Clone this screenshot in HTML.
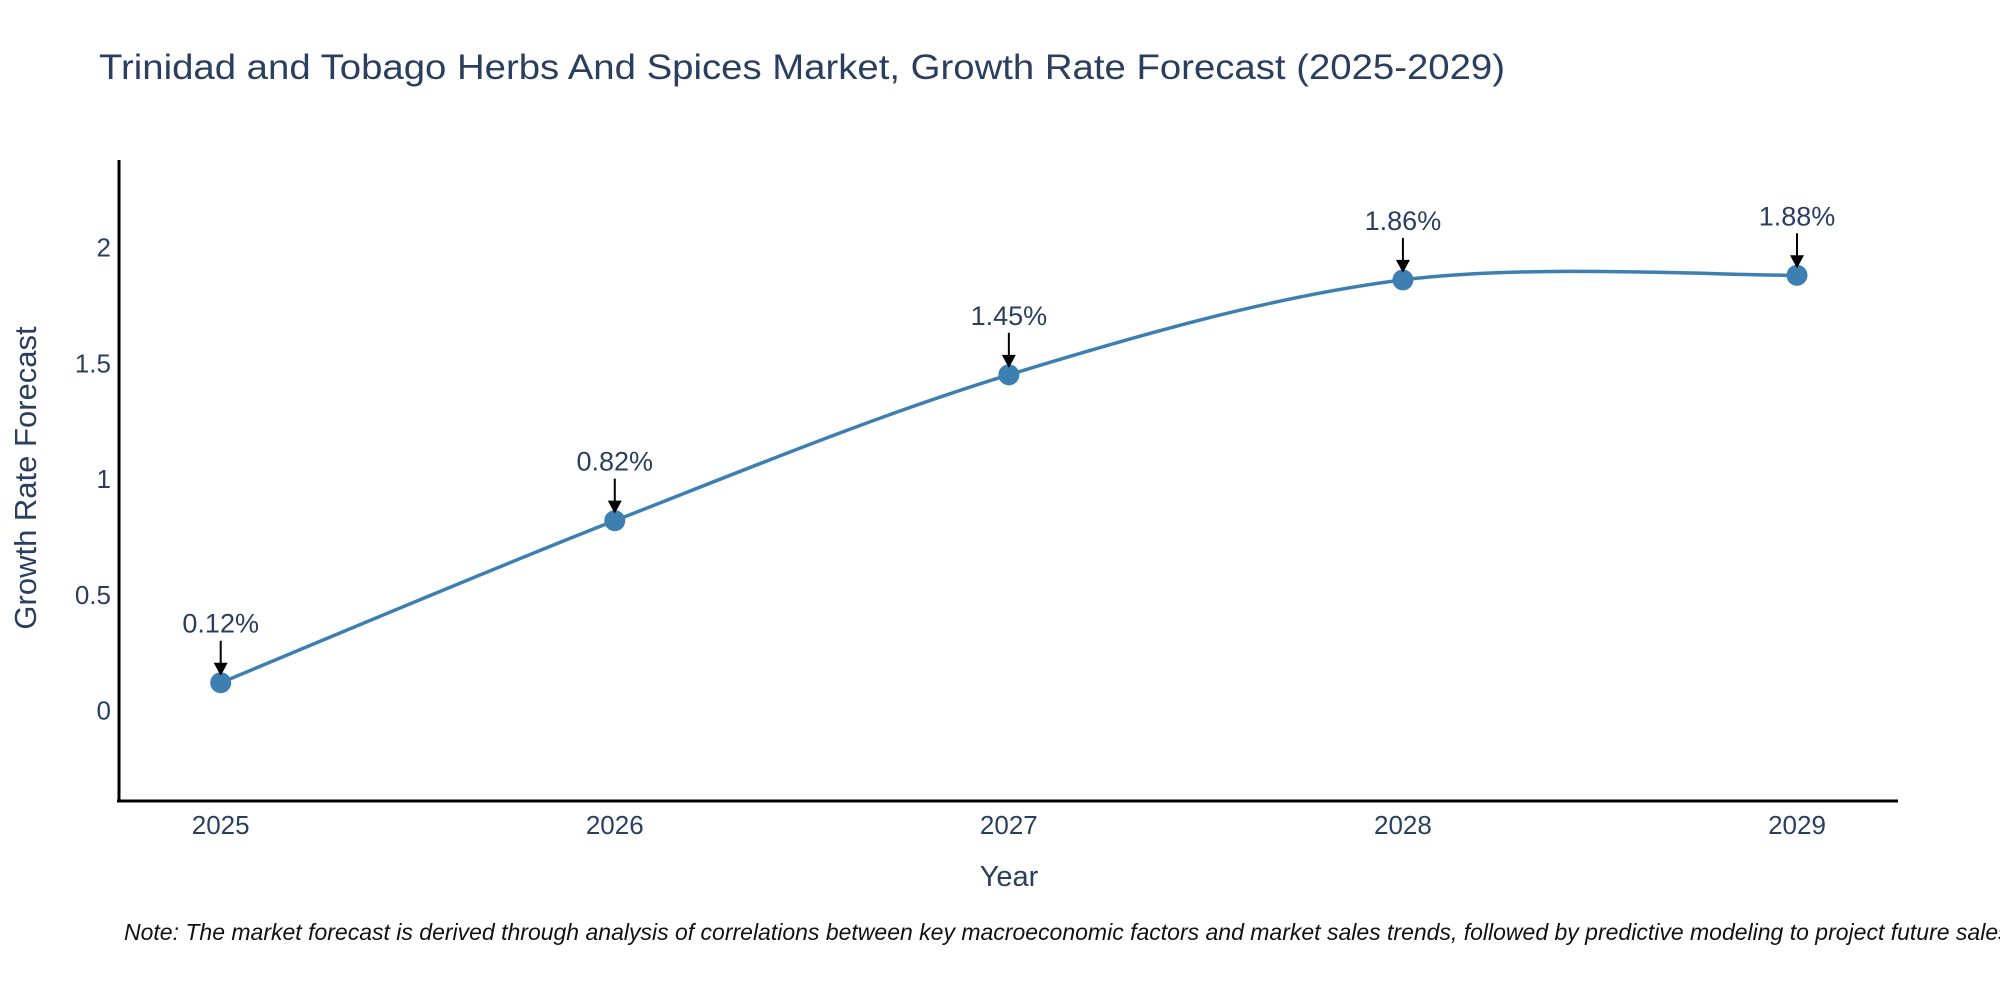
<!DOCTYPE html>
<html><head><meta charset="utf-8"><style>html,body{margin:0;padding:0;background:#fff;overflow:hidden}svg{display:block}text{font-family:"Liberation Sans",sans-serif;fill:#2a3f5f}</style></head>
<body>
<svg id="chart" width="2000" height="1000" viewBox="0 0 2000 1000" xmlns="http://www.w3.org/2000/svg">
<text x="99" y="79" font-size="35" textLength="1406" lengthAdjust="spacingAndGlyphs">Trinidad and Tobago Herbs And Spices Market, Growth Rate Forecast (2025-2029)</text>
<g id="yticks"></g>
<g id="xticks"></g>
<line x1="119" y1="160" x2="119" y2="802" stroke="#000" stroke-width="3"/>
<line x1="117" y1="801" x2="1898" y2="801" stroke="#000" stroke-width="3"/>
<g id="series"></g>
<g id="annots"></g>
<text transform="translate(36,478) rotate(-90)" text-anchor="middle" font-size="31">Growth Rate Forecast</text>
<text x="1009" y="886" text-anchor="middle" font-size="29">Year</text>
<text x="124" y="940" font-size="23" font-style="italic" style="fill:#111">Note: The market forecast is derived through analysis of correlations between key macroeconomic factors and market sales trends, followed by predictive modeling to project future sales.</text>
</svg>
<script>
const years = ["2025","2026","2027","2028","2029"];
const values = [0.12, 0.82, 1.45, 1.86, 1.88];
const valueLabels = ["0.12%","0.82%","1.45%","1.86%","1.88%"];
const yTicks = [0, 0.5, 1, 1.5, 2];
const yTickLabels = ["0","0.5","1","1.5","2"];

const NS="http://www.w3.org/2000/svg";
const xScale = i => 220.7 + i*((1797-220.7)/(years.length-1));
const yScale = v => 710.5 - v*231.5;
function mk(tag, attrs, parent){const e=document.createElementNS(NS,tag);for(const k in attrs)e.setAttribute(k,attrs[k]);parent.appendChild(e);return e;}

const yt=document.getElementById('yticks');
yTicks.forEach((t,i)=>{const e=mk('text',{x:111,y:yScale(t)+9,'text-anchor':'end','font-size':26},yt);


e.textContent=yTickLabels[i];});
const xt=document.getElementById('xticks');
years.forEach((y,i)=>{const e=mk('text',{x:xScale(i),y:834,'text-anchor':'middle','font-size':26},xt);


e.textContent=y;});

const pts=values.map((v,i)=>[xScale(i),yScale(v)]);
let d=`M${pts[0][0]},${pts[0][1]}`;
for(let i=0;i<pts.length-1;i++){
  const p0=pts[Math.max(0,i-1)],p1=pts[i],p2=pts[i+1],p3=pts[Math.min(pts.length-1,i+2)];
  const t=1/6;
  const c1=[p1[0]+(p2[0]-p0[0])*t,p1[1]+(p2[1]-p0[1])*t];
  const c2=[p2[0]-(p3[0]-p1[0])*t,p2[1]-(p3[1]-p1[1])*t];
  d+=` C${c1[0]},${c1[1]} ${c2[0]},${c2[1]} ${p2[0]},${p2[1]}`;
}
const s=document.getElementById('series');
const line=mk('path',{d:d,fill:'none',stroke:'#3d7fb1','stroke-width':3.5},s);


pts.forEach((p,i)=>{const c=mk('circle',{cx:p[0],cy:p[1],r:10.5,fill:'#3d7fb1'},s);

});

const a=document.getElementById('annots');
pts.forEach((p,i)=>{
  const g=mk('g',{},a);
  
  
  mk('line',{x1:p[0],y1:p[1]-42,x2:p[0],y2:p[1]-18,stroke:'#000','stroke-width':2},g);
  mk('polygon',{points:`${p[0]-7},${p[1]-20} ${p[0]+7},${p[1]-20} ${p[0]},${p[1]-7}`,fill:'#000'},g);
  const t=mk('text',{x:p[0],y:p[1]-50,'text-anchor':'middle','font-size':27},g);
  t.textContent=valueLabels[i];
});
</script>
</body></html>
